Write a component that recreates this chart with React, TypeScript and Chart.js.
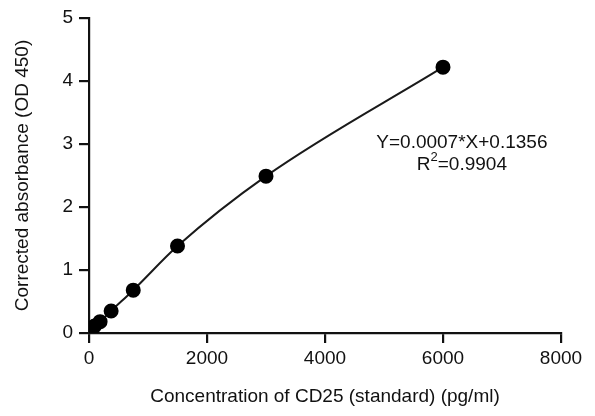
import React, { useEffect, useRef } from "react";
import { Chart, registerables } from "chart.js";

Chart.register(...registerables);

const concentrations = [47, 94, 188, 375, 750, 1500, 3000, 6000];
const absorbance = [0.06, 0.11, 0.18, 0.35, 0.68, 1.38, 2.49, 4.22];
const xTicks = [0, 2000, 4000, 6000, 8000];
const yTicks = [0, 1, 2, 3, 4, 5];
const equationText = "Y=0.0007*X+0.1356";
const r2Text = "=0.9904";
const xTitle = "Concentration of CD25 (standard) (pg/ml)";
const yTitle = "Corrected absorbance (OD 450)";

const FONT = "'Liberation Sans', Arial, Helvetica, sans-serif";
const FS = 19;

const equationPlugin = {
  id: "equation",
  afterDatasetsDraw(chart: any) {
    const { ctx, scales } = chart;
    const cx = scales.x.getPixelForValue(6320);
    const y1 = scales.y.getPixelForValue(3.02);
    const y2 = scales.y.getPixelForValue(2.67);
    ctx.save();
    ctx.fillStyle = "#111";
    ctx.textBaseline = "middle";
    ctx.font = `${FS}px ${FONT}`;
    ctx.textAlign = "center";
    ctx.fillText(equationText, cx, y1);
    const wR = ctx.measureText("R").width;
    ctx.font = `13px ${FONT}`;
    const w2 = ctx.measureText("2").width;
    ctx.font = `${FS}px ${FONT}`;
    const wRest = ctx.measureText(r2Text).width;
    const total = wR + w2 + wRest;
    let x = cx - total / 2;
    ctx.textAlign = "left";
    ctx.fillText("R", x, y2);
    x += wR;
    ctx.font = `13px ${FONT}`;
    ctx.fillText("2", x, y2 - 7);
    x += w2;
    ctx.font = `${FS}px ${FONT}`;
    ctx.fillText(r2Text, x, y2);
    ctx.restore();
  },
};

export default function App() {
  const ref = useRef<HTMLCanvasElement>(null);
  useEffect(() => {
    document.body.style.margin = "0";
    const points = concentrations.map((c, i) => ({ x: c, y: absorbance[i] }));
    const chart = new Chart(ref.current as HTMLCanvasElement, {
      type: "scatter",
      data: {
        datasets: [
          {
            data: points,
            showLine: true,
            borderColor: "#1a1a1a",
            borderWidth: 2,
            backgroundColor: "#000",
            pointBackgroundColor: "#000",
            pointBorderColor: "#000",
            pointRadius: 6.5,
            cubicInterpolationMode: "monotone",
          } as any,
        ],
      },
      options: {
        animation: false,
        responsive: false,
        layout: { padding: { top: 18, right: 34, left: 0, bottom: 0 } },
        plugins: { legend: { display: false }, tooltip: { enabled: false } },
        scales: {
          x: {
            type: "linear",
            min: 0,
            max: 8000,
            afterBuildTicks: (s: any) => {
              s.ticks = xTicks.map((v) => ({ value: v }));
            },
            afterFit: (s: any) => {
              s.height = 83;
            },
            border: { display: true, color: "#111", width: 2.2 },
            grid: {
              drawOnChartArea: false,
              drawTicks: true,
              tickLength: 10,
              color: "#111",
              lineWidth: 2.2,
            },
            ticks: {
              color: "#111",
              padding: 4,
              maxRotation: 0,
              font: { family: FONT, size: FS },
              callback: (v: any) => String(v),
            },
            title: {
              display: true,
              text: xTitle,
              color: "#111",
              font: { family: FONT, size: FS },
              padding: { top: 0, bottom: 8 },
            },
          },
          y: {
            type: "linear",
            min: 0,
            max: 5,
            afterBuildTicks: (s: any) => {
              s.ticks = yTicks.map((v) => ({ value: v }));
            },
            afterFit: (s: any) => {
              s.width = 89;
            },
            border: { display: true, color: "#111", width: 2.2 },
            grid: {
              drawOnChartArea: false,
              drawTicks: true,
              tickLength: 10,
              color: "#111",
              lineWidth: 2.2,
            },
            ticks: {
              color: "#111",
              padding: 6,
              font: { family: FONT, size: FS },
              callback: (v: any) => String(v),
            },
            title: {
              display: true,
              text: yTitle,
              color: "#111",
              font: { family: FONT, size: FS },
              padding: { top: 11, bottom: 0 },
            },
          },
        },
      },
      plugins: [equationPlugin],
    });
    return () => chart.destroy();
  }, []);
  return (
    <div style={{ width: 595, height: 416, background: "#fff" }}>
      <canvas ref={ref} width={595} height={416} style={{ display: "block" }} />
    </div>
  );
}
